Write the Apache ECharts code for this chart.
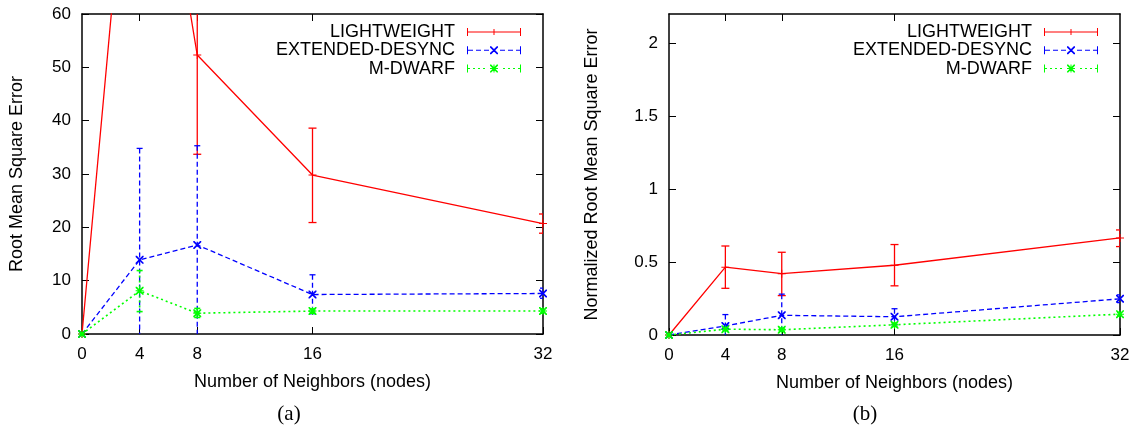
<!DOCTYPE html>
<html>
<head>
<meta charset="utf-8">
<script src="https://cdn.jsdelivr.net/npm/echarts@6/dist/echarts.min.js"></script>
<style>html,body{margin:0;padding:0;background:#fff}#c{width:1141px;height:432px}</style>
</head>
<body>
<div id="c"></div>
<script>
// ---------- data ----------
const seriesNames = ['LIGHTWEIGHT', 'EXTENDED-DESYNC', 'M-DWARF'];
const xValues = [0, 4, 8, 16, 32];
const xTickLabels = [0, 4, 8, 16, 32];
const yTicksA = [0, 10, 20, 30, 40, 50, 60];
const yTicksB = [0, 0.5, 1, 1.5, 2];

// panel (a): Root Mean Square Error
const rmseLightweight     = [0, 118, 52.3, 29.8, 20.7];
const rmseLightweightLow  = [null, null, 33.7, 20.9, 18.9];
const rmseLightweightHigh = [null, null, 70.9, 38.6, 22.5];
const rmseExtended        = [0, 13.9, 16.7, 7.4, 7.6];
const rmseExtendedLow     = [null, -7.0, -1.9, 3.8, 6.7];
const rmseExtendedHigh    = [null, 34.8, 35.3, 11.1, 8.6];
const rmseMdwarf          = [0, 8.1, 3.9, 4.3, 4.3];
const rmseMdwarfLow       = [null, 4.2, 3.1, 3.9, 3.9];
const rmseMdwarfHigh      = [null, 11.9, 4.8, 4.7, 4.7];

// panel (b): Normalized Root Mean Square Error
const nrmseLightweight     = [0, 0.465, 0.42, 0.478, 0.665];
const nrmseLightweightLow  = [null, 0.32, 0.27, 0.337, 0.606];
const nrmseLightweightHigh = [null, 0.61, 0.567, 0.62, 0.72];
const nrmseExtended        = [0, 0.062, 0.135, 0.125, 0.248];
const nrmseExtendedLow     = [null, -0.016, -0.01, 0.07, 0.222];
const nrmseExtendedHigh    = [null, 0.14, 0.28, 0.18, 0.275];
const nrmseMdwarf          = [0, 0.04, 0.036, 0.07, 0.143];
const nrmseMdwarfLow       = [null, 0.03, 0.026, 0.058, 0.131];
const nrmseMdwarfHigh      = [null, 0.05, 0.046, 0.082, 0.155];

// ---------- style ----------
const FONT = 'Liberation Sans, Arial, sans-serif';
const COLORS = ['#ff0000', '#0000ff', '#00ff00'];
const DASHES = ['solid', [5, 3], [2, 3]];
const LINEW = [1.3, 1.3, 1.6];
const CAPW = [8, 6, 6];

function rect(x, y, w, h) { return 'M' + x + ',' + y + 'h' + w + 'v' + h + 'h' + (-w) + 'z'; }
const SYM_PLUS = 'path://M3.5,0h1v8h-1z M0,3.5h8v1h-8z';
const SYM_X = 'path://M0,0L1.2,0L8,6.8L8,8L6.8,8L0,1.2Z M8,0L8,1.2L1.2,8L0,8L0,6.8L6.8,0Z';
const SYM_STAR = 'path://M3.5,0h1v8h-1z M0,3.5h8v1h-8z M0,0L1.2,0L8,6.8L8,8L6.8,8L0,1.2Z M8,0L8,1.2L1.2,8L0,8L0,6.8L6.8,0Z';
const SYMBOLS = [SYM_PLUS, SYM_X, SYM_STAR];

// legend icons, 54 x 8
function legendIcon(k) {
  let p = rect(0, 0, 1, 8) + rect(53, 0, 1, 8);
  if (k === 0) {
    p += rect(0, 3.5, 54, 1) + rect(26.5, 1, 1, 6);
  } else {
    const dash = k === 1 ? 5 : 2, gap = 3;
    for (let x = 1; x < 54; x += dash + gap) {
      if (x + dash > 22 && x < 32) continue;
      p += rect(x, 3.5, Math.min(dash, 53 - x), 1);
    }
    p += 'M23,0L24.2,0L31,6.8L31,8L29.8,8L23,1.2Z M31,0L31,1.2L24.2,8L23,8L23,6.8L29.8,0Z';
    if (k === 2) p += rect(26.5, 0, 1, 8) + rect(23, 3.5, 8, 1);
  }
  return 'path://' + p;
}

function errRenderer(k) {
  return function (params, api) {
    const x = api.value(0), lo = api.value(1), hi = api.value(2);
    const pLo = api.coord([x, lo]), pHi = api.coord([x, hi]);
    const cs = params.coordSys;
    const top = cs.y, bot = cs.y + cs.height;
    const cx = pLo[0];
    const st = { stroke: COLORS[k], lineWidth: LINEW[k], lineDash: DASHES[k] === 'solid' ? null : DASHES[k] };
    const children = [];
    const y1 = Math.max(top, Math.min(bot, pHi[1]));
    const y2 = Math.max(top, Math.min(bot, pLo[1]));
    if (y2 > y1) children.push({ type: 'line', shape: { x1: cx, y1: y1, x2: cx, y2: y2 }, style: st });
    const hw = CAPW[k] / 2;
    const capSt = { stroke: COLORS[k], lineWidth: LINEW[k] };
    [pHi[1], pLo[1]].forEach(function (yy) {
      if (yy >= top && yy <= bot) children.push({ type: 'line', shape: { x1: cx - hw, y1: yy, x2: cx + hw, y2: yy }, style: capSt });
    });
    return { type: 'group', children: children };
  };
}

const textBase = { color: '#000', fontFamily: FONT };

function xAxes(gridIndex) {
  return [{
    type: 'value', gridIndex: gridIndex, min: 0, max: 32, position: 'bottom',
    axisLine: { show: true, onZero: false, lineStyle: { color: '#000', width: 1.5 } },
    axisTick: { show: true, inside: true, length: 7, customValues: xTickLabels, lineStyle: { color: '#000' } },
    axisLabel: Object.assign({ customValues: xTickLabels, fontSize: 17, margin: 12 }, textBase),
    splitLine: { show: false },
    name: 'Number of Neighbors (nodes)', nameLocation: 'middle', nameGap: 39,
    nameTextStyle: Object.assign({ fontSize: 18 }, textBase)
  }, {
    type: 'value', gridIndex: gridIndex, min: 0, max: 32, position: 'top',
    axisLine: { show: true, onZero: false, lineStyle: { color: '#000', width: 1.5 } },
    axisTick: { show: true, inside: true, length: 7, customValues: [4, 8, 16], lineStyle: { color: '#000' } },
    axisLabel: { show: false }, splitLine: { show: false }
  }];
}
function yAxes(gridIndex, max, ticks, name, gap) {
  return [{
    type: 'value', gridIndex: gridIndex, min: 0, max: max, position: 'left',
    axisLine: { show: true, onZero: false, lineStyle: { color: '#000', width: 1.5 } },
    axisTick: { show: true, inside: true, length: 7, customValues: ticks, lineStyle: { color: '#000' } },
    axisLabel: Object.assign({ customValues: ticks, fontSize: 17, margin: 11 }, textBase),
    splitLine: { show: false },
    name: name, nameLocation: 'middle', nameGap: gap,
    nameTextStyle: Object.assign({ fontSize: 18 }, textBase)
  }, {
    type: 'value', gridIndex: gridIndex, min: 0, max: max, position: 'right',
    axisLine: { show: true, onZero: false, lineStyle: { color: '#000', width: 1.5 } },
    axisTick: { show: true, inside: true, length: 7, customValues: ticks, lineStyle: { color: '#000' } },
    axisLabel: { show: false }, splitLine: { show: false }
  }];
}

function panelSeries(axisIdx, vals, lows, highs) {
  const out = [];
  for (let k = 0; k < 3; k++) {
    out.push({
      type: 'line', name: seriesNames[k], xAxisIndex: axisIdx, yAxisIndex: axisIdx,
      data: xValues.map(function (x, i) { return [x, vals[k][i]]; }),
      symbol: SYMBOLS[k], symbolSize: 8, showSymbol: true, clip: true,
      lineStyle: { color: COLORS[k], width: LINEW[k], type: DASHES[k] },
      itemStyle: { color: COLORS[k], borderWidth: 0 },
      emphasis: { disabled: true }, z: 3 + k
    });
    out.push({
      type: 'custom', name: seriesNames[k], xAxisIndex: axisIdx, yAxisIndex: axisIdx,
      data: xValues.map(function (x, i) { return [x, lows[k][i], highs[k][i]]; })
        .filter(function (d) { return d[1] !== null; }),
      encode: { x: 0, y: [1, 2] }, renderItem: errRenderer(k), clip: true,
      itemStyle: { color: COLORS[k] }, z: 3 + k, silent: true
    });
  }
  return out;
}

function legendFor(right) {
  return {
    orient: 'vertical', align: 'right', right: right, top: 23, padding: 0,
    itemWidth: 54, itemHeight: 8, itemGap: 0.3, selectedMode: false,
    textStyle: Object.assign({ fontSize: 18, lineHeight: 18, padding: [0, 7, 0, 0] }, textBase),
    data: seriesNames.map(function (n, k) { return { name: n, icon: legendIcon(k), itemStyle: { color: COLORS[k] } }; })
  };
}

const chart = echarts.init(document.getElementById('c'), null, { renderer: 'canvas' });
chart.setOption({
  animation: false,
  backgroundColor: '#fff',
  grid: [
    { left: 82, top: 14, width: 461, height: 320 },
    { left: 669, top: 14, width: 451, height: 321 }
  ],
  xAxis: xAxes(0).concat(xAxes(1)),
  yAxis: yAxes(0, 60, yTicksA, 'Root Mean Square Error', 56)
    .concat(yAxes(1, 2.2, yTicksB, 'Normalized Root Mean Square Error', 68)),
  legend: [legendFor(620), legendFor(43)],
  series: panelSeries(0, [rmseLightweight, rmseExtended, rmseMdwarf],
      [rmseLightweightLow, rmseExtendedLow, rmseMdwarfLow],
      [rmseLightweightHigh, rmseExtendedHigh, rmseMdwarfHigh])
    .concat(panelSeries(2, [nrmseLightweight, nrmseExtended, nrmseMdwarf],
      [nrmseLightweightLow, nrmseExtendedLow, nrmseMdwarfLow],
      [nrmseLightweightHigh, nrmseExtendedHigh, nrmseMdwarfHigh])),
  graphic: [
    { type: 'text', x: 289, y: 414, style: { text: '(a)', fill: '#000', font: '21px "Liberation Serif", serif', align: 'center', verticalAlign: 'middle' } },
    { type: 'text', x: 865, y: 414, style: { text: '(b)', fill: '#000', font: '21px "Liberation Serif", serif', align: 'center', verticalAlign: 'middle' } }
  ]
});
</script>
</body>
</html>
